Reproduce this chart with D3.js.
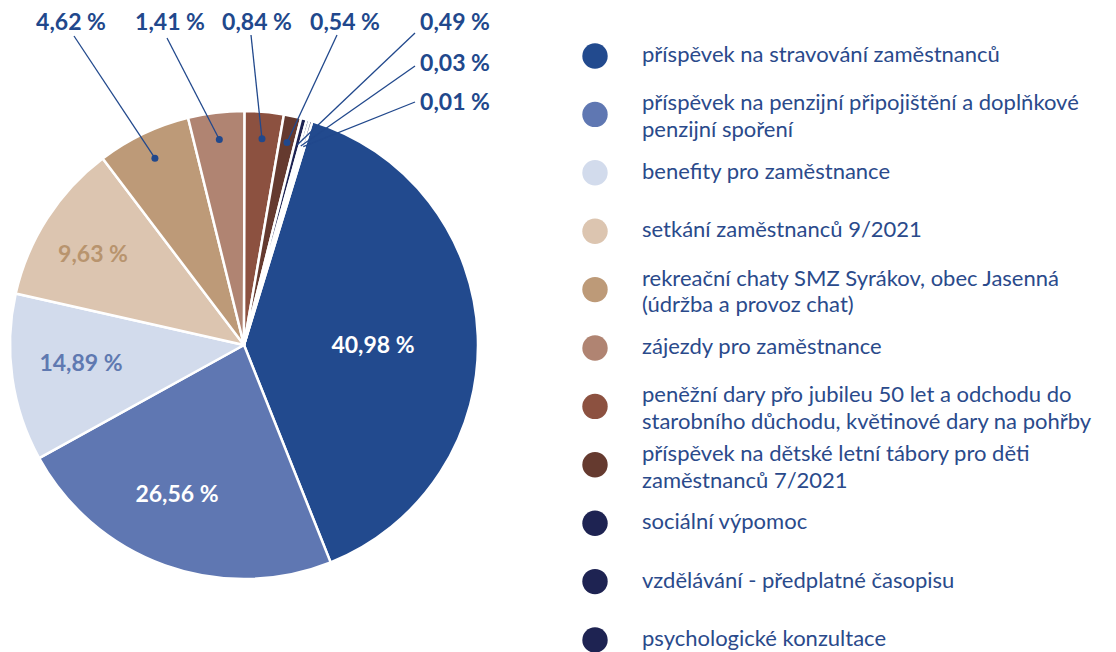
<!DOCTYPE html>
<html>
<head>
<meta charset="utf-8">
<script src="https://cdn.jsdelivr.net/npm/d3@7"></script>
<style>
  body { margin: 0; background: #fff; }
  svg { display: block; font-family: Lato, "Open Sans", sans-serif; }
</style>
</head>
<body>
<svg id="chart" width="1116" height="652"></svg>
<script>
// categories, as in the legend
var categories = [
    "příspěvek na stravování zaměstnanců",
    "příspěvek na penzijní připojištění a doplňkové\npenzijní spoření",
    "benefity pro zaměstnance",
    "setkání zaměstnanců 9/2021",
    "rekreační chaty SMZ Syrákov, obec Jasenná\n(údržba a provoz chat)",
    "zájezdy pro zaměstnance",
    "peněžní dary přo jubileu 50 let a odchodu do\nstarobního důchodu, květinové dary na pohřby",
    "příspěvek na dětské letní tábory pro děti\nzaměstnanců 7/2021",
    "sociální výpomoc",
    "vzdělávání - předplatné časopisu",
    "psychologické konzultace"
];
// printed percentages
var labels = ["40,98 %", "26,56 %", "14,89 %", "9,63 %", "4,62 %", "1,41 %", "0,84 %", "0,54 %", "0,49 %", "0,03 %", "0,01 %"];
// slice sizes as drawn in the picture (share of the full circle)
var shares = [39.4, 23.1, 11.6, 11.2, 6.5, 3.9, 2.7, 1.2, 0.4, 0.2, 0.2];
var colors = ["#224a8e", "#5f77b2", "#d2dbec", "#dcc5b0", "#bd9a78", "#b08472", "#8c5140", "#653a2f", "#1e2352", "#1e2352", "#1e2352"];

var svg = d3.select("#chart"),
    cx = 244, cy = 345, R = 234;

var start = 17 * Math.PI / 180;
var pie = d3.pie().sort(null).value(function (d) { return d; })
    .startAngle(start).endAngle(start + 2 * Math.PI);
var arcs = pie(shares);
var arc = d3.arc().innerRadius(0).outerRadius(R);
var dotArc = d3.arc().innerRadius(207).outerRadius(207);

var g = svg.append("g").attr("transform", "translate(" + cx + "," + cy + ")");
g.selectAll("path.slice").data(arcs).enter().append("path")
    .attr("class", "slice")
    .attr("d", arc)
    .attr("fill", function (d, i) { return colors[i]; })
    .attr("stroke", "#fff")
    .attr("stroke-width", 2.5)
    .attr("stroke-linejoin", "round");

// labels inside the four large slices
var innerPos = [[373, 345], [177, 494], [81, 363], [93, 254]];
var innerColor = ["#fff", "#fff", "#5f79b1", "#b8946e"];
innerPos.forEach(function (p, i) {
    svg.append("text")
        .attr("x", p[0]).attr("y", p[1])
        .attr("text-anchor", "middle").attr("dy", "0.35em")
        .attr("font-weight", 700).attr("font-size", 23)
        .attr("fill", innerColor[i])
        .text(labels[i]);
});

// callouts for the small slices
var textPos = [[71, 22], [170, 22], [257, 22], [345, 22], [455, 22], [455, 63], [455, 102]];
var lineStart = [[74, 36], [167, 38], [251, 35], [337, 35], [415, 33], [415, 66], [415, 102]];
var labelBlue = "#21488c";
for (var k = 0; k < textPos.length; k++) {
    var i = k + 4;
    var c = dotArc.centroid(arcs[i]);
    var px = cx + c[0], py = cy + c[1];
    svg.append("line")
        .attr("x1", lineStart[k][0]).attr("y1", lineStart[k][1])
        .attr("x2", px).attr("y2", py)
        .attr("stroke", labelBlue).attr("stroke-width", 1.3);
    if (arcs[i].endAngle - arcs[i].startAngle > 0.03) {
        svg.append("circle").attr("cx", px).attr("cy", py).attr("r", 3.5).attr("fill", labelBlue);
    }
    svg.append("text")
        .attr("x", textPos[k][0]).attr("y", textPos[k][1])
        .attr("text-anchor", "middle").attr("dy", "0.35em")
        .attr("font-weight", 700).attr("font-size", 23)
        .attr("fill", labelBlue)
        .text(labels[i]);
}

// legend
var legendY = d3.scalePoint().domain(d3.range(categories.length)).range([56, 640]);
var leg = svg.selectAll("g.leg").data(categories).enter().append("g").attr("class", "leg");
leg.append("circle")
    .attr("cx", 595).attr("cy", function (d, i) { return legendY(i); })
    .attr("r", 12.7)
    .attr("fill", function (d, i) { return colors[i]; });
leg.each(function (d, i) {
    var lines = d.split("\n");
    var y0 = lines.length > 1 ? legendY(i) - 4 : legendY(i) + 6;
    var t = d3.select(this).append("text")
        .attr("font-size", 22).attr("fill", "#2a4a8b");
    lines.forEach(function (s, j) {
        t.append("tspan").attr("x", 642).attr("y", y0 + j * 26.7).text(s);
    });
});
</script>
</body>
</html>
